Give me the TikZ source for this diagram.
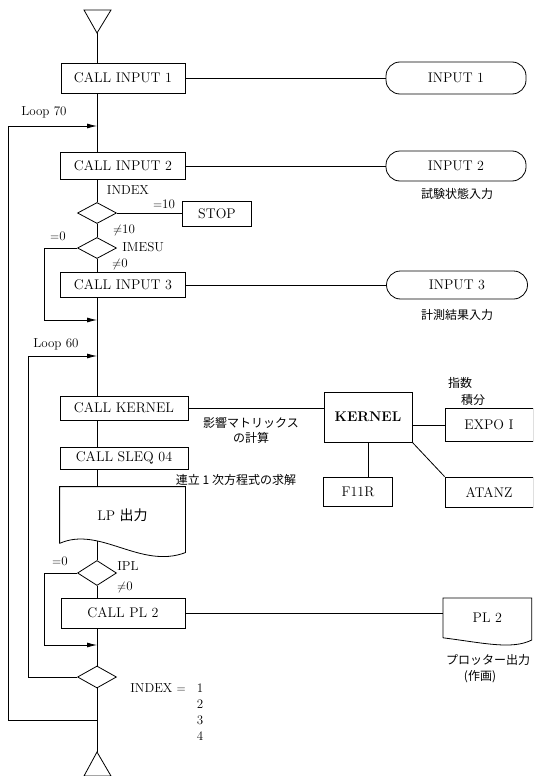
\documentclass[tikz,border=0pt]{standalone}
\usepackage{fontspec}
\newfontfamily\jp{Noto Sans CJK JP}
\usetikzlibrary{shapes.geometric,arrows.meta}

\tikzset{FCbox/.style={rectangle,draw,inner sep=0pt,font=\fontsize{14}{16}\selectfont},
         FCterm/.style={rectangle,draw,rounded corners=14pt,inner sep=0pt,font=\fontsize{14}{16}\selectfont},
         FCdia/.style={diamond,draw,inner sep=0pt,minimum width=39pt,minimum height=21pt},
         FClab/.style={font=\fontsize{13}{15}\selectfont,inner sep=0pt},
         FCjp/.style={font=\jp\fontsize{12}{15}\selectfont,inner sep=0pt,align=center},
         FCarr/.style={-{Latex[length=10pt,width=5pt]}}}

\begin{document}
\begin{tikzpicture}[x=1pt,y=-1pt,line width=0.8pt]
  \useasboundingbox (0,0) rectangle (533,776);
  \clip (0,0) rectangle (533,776);
  % start and end marks
  \coordinate (start) at (97,33); \coordinate (stop) at (97,752);
  \draw (84,10) -- (111,10) -- (start) -- cycle;
  \draw (84,776) -- (111,776) -- (stop) -- cycle;
  % input part
  \node[FCbox,minimum width=124pt,minimum height=30pt] (in1) at (123,78) {CALL INPUT 1};
  \node[FCterm,minimum width=140pt,minimum height=32pt] (t1) at (456,78) {INPUT 1};
  \node[FCbox,minimum width=125pt,minimum height=27pt] (in2) at (123,166) {CALL INPUT 2};
  \node[FCterm,minimum width=140pt,minimum height=30pt] (t2) at (456,166) {INPUT 2};
  \node[FCjp] (t2lab) at (457,194) {試験状態入力};
  \node[FClab] (idx1) at (128,190) {INDEX};
  \node[FCdia] (d1) at (97,213) {};
  \node[FCbox,minimum width=69pt,minimum height=25pt] (stp) at (217,214) {STOP};
  \node[FClab] (eq10) at (164,204) {$=$10};
  \node[FClab] (ne10) at (124,230) {$\neq$10};
  \node[FCdia] (d2) at (97,248) {};
  \node[FClab,anchor=west] (imesu) at (122,247) {IMESU};
  \node[FClab] (eq0a) at (58,236) {$=$0};
  \node[FClab] (ne0a) at (120,264) {$\neq$0};
  \node[FCbox,minimum width=125pt,minimum height=25pt] (in3) at (123,285) {CALL INPUT 3};
  \node[FCterm,minimum width=141pt,minimum height=28pt] (t3) at (457,285) {INPUT 3};
  \node[FCjp] (t3lab) at (457,315) {計測結果入力};
  % kernel part
  \node[FClab] (l70lab) at (44,112) {Loop 70};
  \node[FClab] (l60lab) at (56,344) {Loop 60};
  \node[FCbox,minimum width=128pt,minimum height=24pt] (ker) at (124,408) {CALL KERNEL};
  \node[FCbox,minimum width=88pt,minimum height=50pt,font=\fontsize{14}{16}\selectfont\bfseries] (kern) at (368,417) {KERNEL};
  \node[FCjp] (kerlab) at (251,430) {影響マトリックス\\の計算};
  \node[FCbox,minimum width=88pt,minimum height=33pt] (expo) at (489,425) {EXPO I};
  \node[FCjp] (shisu) at (460,383) {指数};
  \node[FCjp] (sekib) at (473,400) {積分};
  \node[FCbox,minimum width=69pt,minimum height=29pt] (f11r) at (358,492) {F11R};
  \node[FCbox,minimum width=88pt,minimum height=30pt] (atanz) at (489,492) {ATANZ};
  \node[FCbox,minimum width=128pt,minimum height=22pt] (sleq) at (124,458) {CALL SLEQ 04};
  \node[FCjp] (sleqlab) at (236,480) {連立 1 次方程式の求解};
  % LP output
  \node[FCbox,draw=none,minimum width=125pt,minimum height=56pt] (lp) at (122.5,515) {LP {\jp 出力}};
  \draw (lp.south west) -- (lp.north west) -- (lp.north east) -- ++(0,66)
        .. controls ++(-45,17) and ++(40,-18) .. (lp.south west);
  \coordinate (lpw) at (97,541);
  % plotter part
  \node[FCdia,minimum height=25pt] (d3) at (97,573) {};
  \node[FClab] (ipl) at (128,566) {IPL};
  \node[FClab] (eq0b) at (60,561) {$=$0};
  \node[FClab] (ne0b) at (125,587) {$\neq$0};
  \node[FCbox,minimum width=124pt,minimum height=30pt] (pl) at (123,613) {CALL PL 2};
  \node[FCbox,draw=none,minimum width=88pt,minimum height=39pt,anchor=north west] (pl2) at (443,598) {PL 2};
  \draw (pl2.south west) -- (pl2.north west) -- (pl2.north east) -- ++(0,42)
        .. controls ++(-20,10) and ++(40,5) .. (pl2.south west);
  \node[FCjp] (pl2lab) at (488,660) {プロッター出力};
  \node[FCjp] (pl2lab2) at (480,677) {(作画)};
  \node[FCdia,minimum height=22pt] (d4) at (97,677) {};
  \node[FClab,anchor=west] (idx2) at (130,688) {INDEX $=$};
  \foreach \k in {1,2,3,4} \node[FClab] (n\k) at (200,672+16*\k) {\k};
  % main line
  \draw (start) -- (start |- in1.north);
  \foreach \a/\b in {in1/in2,in2/d1,d1/d2,d2/in3,in3/ker,ker/sleq,sleq/lp,d3/pl,pl/d4}
    \draw (start |- \a.south) -- (start |- \b.north);
  \draw (lpw) -- (d3.north); \draw (d4.south) -- (stop);
  % side links
  \draw (in1.east) -- (in1.east -| t1.west); \draw (in2.east) -- (in2.east -| t2.west);
  \draw (in3.east) -- (in3.east -| t3.west); \draw (pl.east) -- (pl.east -| pl2.west);
  \draw (d1.east) -- (d1.east -| stp.west);
  \draw (ker.east) -- (ker.east -| kern.west);
  \draw (expo.west -| kern.east) -- (expo.west);
  \draw (kern.south) -- (kern.south |- f11r.north);
  \draw (kern.south east) -- (atanz.north west);
  % loops and bypasses
  \coordinate (j70) at (97,126); \coordinate (l70) at (8,126); \coordinate (b70) at (97,720);
  \coordinate (j60) at (97,356); \coordinate (l60) at (28,356);
  \coordinate (j2) at (97,320); \coordinate (c2) at (44,320);
  \coordinate (j3) at (97,645); \coordinate (c3) at (44,645);
  \draw[FCarr] (b70) -| (l70) -- (j70);
  \draw[FCarr] (d4.west) -| (l60) -- (j60);
  \draw[FCarr] (d2.west) -| (c2) -- (j2);
  \draw[FCarr] (d3.west) -| (c3) -- (j3);
\end{tikzpicture}
\end{document}
